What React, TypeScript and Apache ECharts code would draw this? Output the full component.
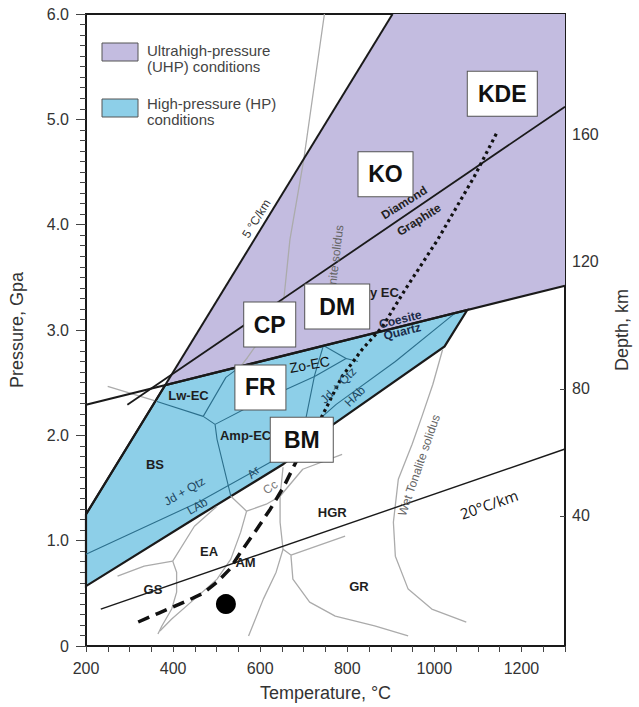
import React, { useEffect, useRef } from "react";
import * as echarts from "echarts";

type Pt = [number, number];

// Temperature (°C) / pressure (GPa) fields
const uhpField: Pt[] = [[381.8, 2.477], [904, 6], [1300, 6], [1300, 3.42]];
const hpField: Pt[] = [
  [200, 0.569], [200, 1.25], [381.8, 2.477], [1075.5, 3.19], [1023.5, 2.844],
  [767.9, 2.104], [652.5, 1.725], [457.9, 1.232],
];

// Reaction lines and geotherms
const coesiteQuartz: Pt[] = [[200, 2.29], [1300, 3.42]];
const diamondGraphite: Pt[] = [[295, 2.29], [1300, 5.12]];
const geotherm5: Pt[] = [[200, 1.25], [904, 6]];
const geotherm20: Pt[] = [[234, 0.35], [1300, 1.87]];
const jadeiteQuartz: Pt[] = [
  [200, 0.872], [457.9, 1.365], [623.1, 1.744], [774.6, 2.294], [910.4, 2.701], [1046.1, 3.156],
];

// Facies boundaries inside the HP field
const hpBoundaries: Pt[][] = [
  [[362.9, 2.322], [469.2, 2.18]],
  [[469.2, 2.18], [521.3, 2.55], [555.2, 2.655]],
  [[469.2, 2.18], [496.4, 2.104]],
  [[496.4, 2.104], [598.2, 2.322], [724.9, 2.559], [797.3, 2.73], [824.4, 2.701]],
  [[745.2, 2.853], [797.3, 2.73]],
  [[745.2, 2.853], [724.9, 2.569], [704.5, 2.152], [679.6, 1.82]],
  [[496.4, 2.104], [500.9, 1.962], [532.6, 1.422]],
];

// Facies boundaries and solidi outside the HP field
const otherBoundaries: Pt[][] = [
  [[747.5, 6], [700, 4.616], [668.3, 3.858], [654.7, 3.308], [616.3, 3.005], [571, 2.739], [555.2, 2.654]],
  [[249.8, 2.464], [362.9, 2.322]],
  [[1019, 2.815], [996.4, 2.483], [971.5, 2.18], [948.9, 1.915], [917.2, 1.583], [905.9, 1.175],
    [910.4, 0.853], [939.8, 0.54], [994.1, 0.351], [1073.3, 0.227]],
  [[272.4, 0.664], [333.5, 0.758], [399.1, 0.806]],
  [[399.1, 0.806], [448.9, 1.137], [500.9, 1.327]],
  [[399.1, 0.806], [408.1, 0.701], [408.1, 0.512], [396.8, 0.351], [374.2, 0.19], [365.2, 0.114]],
  [[568.8, 1.28], [555.2, 1.081], [532.6, 0.825], [500.9, 0.635], [448.9, 0.445], [396.8, 0.256], [369.7, 0.142]],
  [[532.6, 1.422], [568.8, 1.28], [614.0, 1.346], [645.7, 1.422], [652.5, 1.697]],
  [[645.7, 1.422], [697.7, 1.678], [788.2, 1.82]],
  [[645.7, 1.422], [645.7, 1.175], [652.5, 0.919], [670.6, 0.863]],
  [[670.6, 0.863], [675.1, 0.635], [713.6, 0.417], [772.4, 0.284], [862.9, 0.19], [939.8, 0.095]],
  [[652.5, 0.919], [636.6, 0.701], [607.2, 0.445], [573.3, 0.095]],
  [[670.6, 0.863], [795, 1.043]],
];

// P–T path: prograde (dashed) and deep (dotted) parts
const pathLow: Pt[] = [
  [319.9, 0.228], [367.4, 0.313], [426.2, 0.417], [469.2, 0.502], [500.9, 0.607], [530.3, 0.73],
  [555.2, 0.891], [589.1, 1.09], [623.1, 1.299], [654.7, 1.517], [681.9, 1.744], [706.8, 1.962],
];
const pathHigh: Pt[] = [
  [706.8, 1.962], [740.7, 2.171], [787.9, 2.558], [833.1, 2.81], [881, 3.033], [933, 3.384],
  [1007.7, 3.858], [1091.4, 4.455], [1143.4, 4.872],
];
const startPoint: Pt[] = [[521.3, 0.398]];

// Localities (T, P)
const localityNames = ["KDE", "KO", "DM", "CP", "FR", "BM"];
const localityT = [1156, 887.8, 776.9, 621.9, 600.5, 695.5];
const localityP = [5.242, 4.479, 3.223, 3.052, 2.455, 1.957];

// Field and reaction annotations: [text, T, P, angle, kind]
const annotations: [string, number, number, number, string][] = [
  ["Lw-EC", 435.3, 2.379, 0, "facies"],
  ["Amp-EC", 566.5, 2.0, 0, "facies"],
  ["BS", 358.4, 1.725, 0, "facies"],
  ["Dry EC", 868.5, 3.355, 0, "facies"],
  ["EA", 482.8, 0.9, 0, "facies"],
  ["AM", 566.5, 0.796, 0, "facies"],
  ["GS", 353.8, 0.54, 0, "facies"],
  ["HGR", 765.6, 1.27, 0, "facies"],
  ["GR", 826.7, 0.569, 0, "facies"],
  ["Zo-EC", 713.6, 2.673, 10, "zo"],
  ["Jd + Qtz", 779.2, 2.474, 45, "reaction"],
  ["HAb", 817.6, 2.37, 45, "reaction"],
  ["Jd + Qtz", 426.2, 1.469, 30, "reaction"],
  ["LAb", 455.7, 1.327, 30, "reaction"],
  ["Ar", 584.6, 1.649, 40, "reaction"],
  ["Cc", 623.1, 1.507, 35, "greyText"],
  ["Coesite", 921.7, 3.1, 14, "silica"],
  ["Quartz", 926.3, 2.986, 14, "silica"],
  ["Diamond", 930.8, 4.209, 32, "carbon"],
  ["Graphite", 964.7, 4.047, 32, "carbon"],
  ["5 °C/km", 591.4, 4.057, 58, "gradient"],
  ["Wet granite solidus", 767.9, 3.517, 83, "solidus"],
  ["Wet Tonalite solidus", 964.7, 1.716, 71, "solidus"],
  ["20°C/km", 1125.3, 1.346, 19, "geotherm"],
];

const depthTicks = [40, 80, 120, 160];

const UHP_FILL = "#c3bce0";
const HP_FILL = "#8dcfe8";
const TEAL = "#2c6f8c";
const GREY = "#ababab";
const INK = "#1a1a1a";
const SANS = "Liberation Sans, Arial, sans-serif";

const textKinds: Record<string, any> = {
  facies: { fontSize: 13, fontWeight: "bold", color: "#1e1e1e" },
  zo: { fontSize: 14, fontWeight: "normal", color: "#111" },
  reaction: { fontSize: 12, fontWeight: "normal", color: "#1d4660" },
  greyText: { fontSize: 12, fontWeight: "normal", color: "#777" },
  silica: { fontSize: 12, fontWeight: "bold", color: "#1b2b48" },
  carbon: { fontSize: 12, fontWeight: "bold", color: "#222" },
  gradient: { fontSize: 12, fontWeight: "normal", color: "#333" },
  solidus: { fontSize: 12, fontWeight: "normal", color: "#666" },
  geotherm: { fontSize: 15, fontWeight: "normal", color: "#111", fontFamily: "Open Sans" },
};

const boxWidth: Record<string, number> = { KDE: 71, KO: 56, DM: 66, CP: 53, FR: 52, BM: 64 };

function lineSeries(data: Pt[], color: string, width: number, z: number, type: any = "solid") {
  return {
    type: "line",
    data,
    z,
    silent: true,
    showSymbol: false,
    symbol: "none",
    lineStyle: { color, width, type, cap: "butt", opacity: 1 },
    emphasis: { disabled: true },
  };
}

function polygonSeries(name: string, pts: Pt[], fill: string, stroke: string, lw: number, z: number) {
  return {
    type: "custom",
    name,
    z,
    silent: true,
    data: pts,
    encode: { x: 0, y: 1 },
    renderItem: (params: any, api: any) => {
      if (params.dataIndex !== 0) return null;
      const points = pts.map((p) => api.coord(p));
      return {
        type: "polygon",
        shape: { points },
        style: { fill, stroke, lineWidth: lw, lineJoin: "miter" },
      };
    },
  };
}

export default function App() {
  const ref = useRef<HTMLDivElement>(null);

  useEffect(() => {
    if (!ref.current) return;
    const chart = echarts.init(ref.current, undefined, { renderer: "svg" });

    const series: any[] = [
      polygonSeries("UHP", uhpField, UHP_FILL, "none", 0, 1),
      polygonSeries("HP", hpField, HP_FILL, INK, 2.2, 2),
      ...hpBoundaries.map((b) => lineSeries(b, TEAL, 1.1, 3)),
      lineSeries(jadeiteQuartz, TEAL, 1.1, 3),
      ...otherBoundaries.map((b) => lineSeries(b, GREY, 1.3, 3)),
      lineSeries(diamondGraphite, INK, 1.8, 4),
      lineSeries(coesiteQuartz, INK, 2.2, 4),
      lineSeries(geotherm5, INK, 2.0, 4),
      lineSeries(geotherm20, INK, 1.4, 4),
      lineSeries(pathLow, "#111", 3.5, 5, [12, 7]),
      lineSeries(pathHigh, "#111", 3.2, 5, [3, 3.5]),
      {
        type: "scatter",
        data: startPoint,
        z: 5,
        silent: true,
        symbol: "circle",
        symbolSize: 20,
        itemStyle: { color: "#000", opacity: 1 },
      },
      {
        type: "scatter",
        z: 6,
        silent: true,
        symbolSize: 0,
        itemStyle: { opacity: 1 },
        data: annotations.map(([text, t, p, rot, kind]) => ({
          value: [t, p],
          label: {
            show: true,
            position: "inside",
            formatter: text,
            rotate: rot,
            opacity: 1,
            fontFamily: SANS,
            ...textKinds[kind],
          },
        })),
      },
      {
        type: "scatter",
        z: 8,
        silent: true,
        symbolSize: 0,
        itemStyle: { opacity: 1 },
        data: localityNames.map((name, i) => ({
          value: [localityT[i], localityP[i]],
          label: {
            show: true,
            position: "inside",
            formatter: name,
            opacity: 1,
            fontSize: 23,
            fontWeight: "bold",
            color: "#111",
            fontFamily: SANS,
            backgroundColor: "#fff",
            borderColor: "#555",
            borderWidth: 1,
            padding: 0,
            width: boxWidth[name] - 2,
            height: 44,
            lineHeight: 44,
            align: "center",
            verticalAlign: "middle",
          },
        })),
      },
    ];

    chart.setOption({
      animation: false,
      textStyle: { fontFamily: SANS },
      grid: {
        left: 86,
        top: 14,
        right: 67,
        bottom: 60,
        show: true,
        borderColor: INK,
        borderWidth: 2,
        backgroundColor: "transparent",
      },
      xAxis: {
        type: "value",
        min: 200,
        max: 1300,
        interval: 200,
        name: "Temperature, °C",
        nameLocation: "middle",
        nameGap: 38,
        nameTextStyle: { fontSize: 18, color: "#333" },
        axisLine: { show: true, lineStyle: { color: INK, width: 2 } },
        axisTick: { show: true, length: 6, lineStyle: { color: "#444" } },
        minorTick: { show: true, splitNumber: 4, length: 6, lineStyle: { color: "#444" } },
        axisLabel: {
          fontSize: 16,
          color: "#333",
          margin: 14,
          showMaxLabel: false,
          formatter: (v: number) => String(v),
        },
        splitLine: { show: false },
      },
      yAxis: [
        {
          type: "value",
          min: 0,
          max: 6,
          interval: 1,
          position: "left",
          name: "Pressure, Gpa",
          nameLocation: "middle",
          nameGap: 60,
          nameTextStyle: { fontSize: 18, color: "#333" },
          axisLine: { show: true, lineStyle: { color: INK, width: 2 } },
          axisTick: { show: true, length: 10, lineStyle: { color: "#444" } },
          minorTick: { show: true, splitNumber: 10, length: 6, lineStyle: { color: "#444" } },
          axisLabel: {
            fontSize: 16,
            color: "#333",
            margin: 17,
            formatter: (v: number) => (v === 0 ? "0" : v.toFixed(1)),
          },
          splitLine: { show: false },
        },
        {
          type: "value",
          min: -1,
          max: 198,
          position: "right",
          name: "Depth, km",
          nameLocation: "middle",
          nameGap: 48,
          nameTextStyle: { fontSize: 18, color: "#333" },
          axisLine: { show: true, lineStyle: { color: INK, width: 2 } },
          axisTick: { show: true, inside: true, length: 5, customValues: depthTicks, lineStyle: { color: "#444" } },
          axisLabel: { fontSize: 16, color: "#333", margin: 7, customValues: depthTicks },
          splitLine: { show: false },
        },
      ],
      graphic: [
        {
          type: "rect",
          shape: { x: 102, y: 43, width: 36, height: 18 },
          style: { fill: UHP_FILL, stroke: "#555", lineWidth: 1 },
        },
        {
          type: "text",
          x: 147,
          y: 42,
          style: {
            text: "Ultrahigh-pressure\n(UHP) conditions",
            fontSize: 15,
            lineHeight: 16,
            fill: "#444",
            fontFamily: SANS,
          },
        },
        {
          type: "rect",
          shape: { x: 102, y: 99, width: 36, height: 18 },
          style: { fill: HP_FILL, stroke: "#555", lineWidth: 1 },
        },
        {
          type: "text",
          x: 147,
          y: 95,
          style: {
            text: "High-pressure (HP)\nconditions",
            fontSize: 15,
            lineHeight: 16,
            fill: "#444",
            fontFamily: SANS,
          },
        },
      ],
      series,
    });

    return () => chart.dispose();
  }, []);

  return (
    <div
      ref={ref}
      style={{ position: "fixed", left: 0, top: 0, width: 639, height: 707, background: "#fff" }}
    />
  );
}
